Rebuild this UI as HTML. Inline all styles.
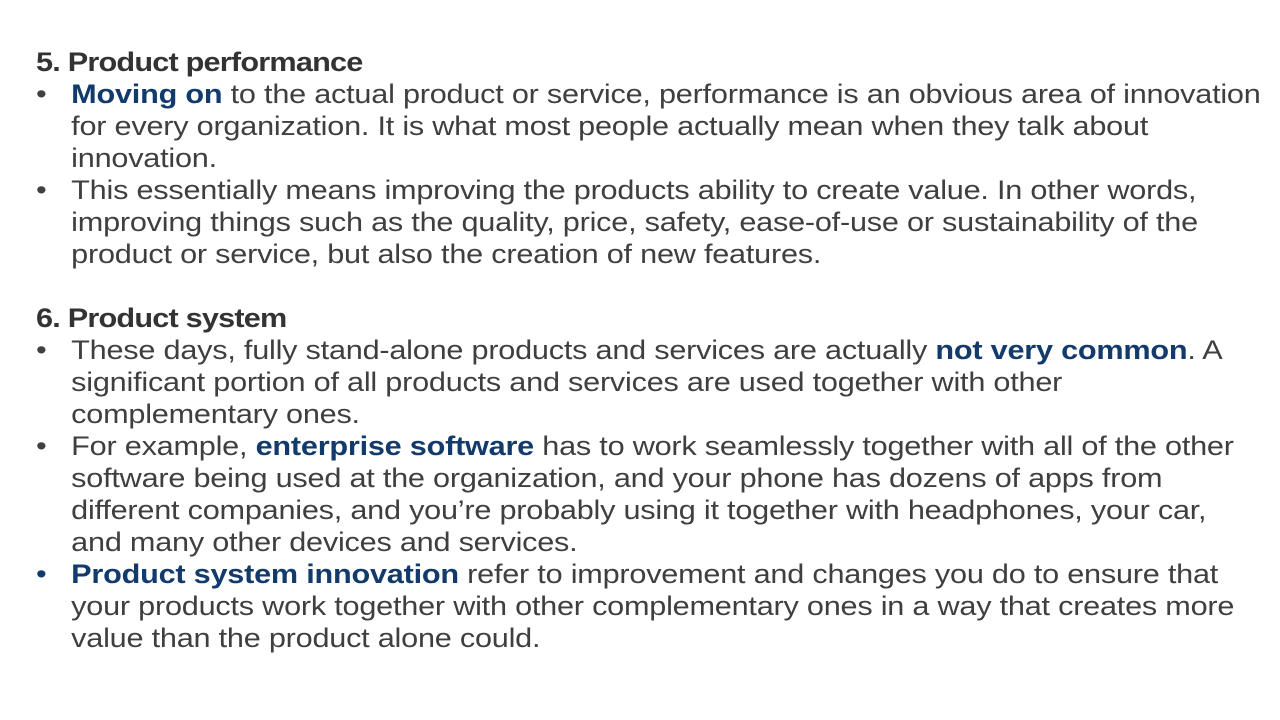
<!DOCTYPE html>
<html><head><meta charset="utf-8"><style>
html,body{margin:0;padding:0;background:#fff;}
body{width:1280px;height:720px;position:relative;overflow:hidden;font-family:"Liberation Sans",sans-serif;color:#3f3f3f;}
#c{position:absolute;left:36px;top:46px;font-size:27px;line-height:32px;letter-spacing:-0.2px;transform:scaleX(1.135);transform-origin:0 0;}
.l{white-space:nowrap;height:32px;position:relative;}
.h{font-weight:bold;color:#333;letter-spacing:-0.7px;}
.t{padding-left:31px;}
.b{position:absolute;left:0;top:0;}
.k{font-weight:bold;color:#123a6b;}
</style></head><body>
<div id="c">
<div class="l h">5. Product performance</div>
<div class="l t"><span class="b">•</span><span class="k">Moving on</span> to the actual product or service, performance is an obvious area of innovation</div>
<div class="l t">for every organization. It is what most people actually mean when they talk about</div>
<div class="l t">innovation.</div>
<div class="l t"><span class="b">•</span>This essentially means improving the products ability to create value. In other words,</div>
<div class="l t">improving things such as the quality, price, safety, ease-of-use or sustainability of the</div>
<div class="l t">product or service, but also the creation of new features.</div>
<div class="l"></div>
<div class="l h">6. Product system</div>
<div class="l t"><span class="b">•</span>These days, fully stand-alone products and services are actually <span class="k">not very common</span>. A</div>
<div class="l t">significant portion of all products and services are used together with other</div>
<div class="l t">complementary ones.</div>
<div class="l t"><span class="b">•</span>For example, <span class="k">enterprise software</span> has to work seamlessly together with all of the other</div>
<div class="l t">software being used at the organization, and your phone has dozens of apps from</div>
<div class="l t">different companies, and you’re probably using it together with headphones, your car,</div>
<div class="l t">and many other devices and services.</div>
<div class="l t"><span class="b" style="color:#123a6b">•</span><span class="k">Product system innovation</span> refer to improvement and changes you do to ensure that</div>
<div class="l t">your products work together with other complementary ones in a way that creates more</div>
<div class="l t">value than the product alone could.</div>
</div>
</body></html>
